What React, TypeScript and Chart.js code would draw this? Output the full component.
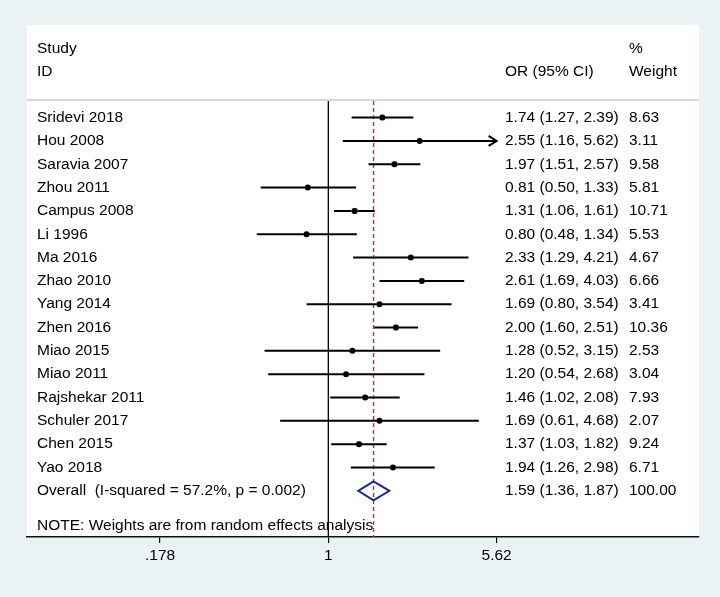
import React, { useEffect, useRef } from "react";
import { Chart, registerables } from "chart.js";

Chart.register(...registerables);

const studies = [
  "Sridevi 2018", "Hou 2008", "Saravia 2007", "Zhou 2011", "Campus 2008", "Li 1996",
  "Ma 2016", "Zhao 2010", "Yang 2014", "Zhen 2016", "Miao 2015", "Miao 2011",
  "Rajshekar 2011", "Schuler 2017", "Chen 2015", "Yao 2018",
];
const oddsRatios = [1.74, 2.55, 1.97, 0.81, 1.31, 0.80, 2.33, 2.61, 1.69, 2.00, 1.28, 1.20, 1.46, 1.69, 1.37, 1.94];
const ciLower = [1.27, 1.16, 1.51, 0.50, 1.06, 0.48, 1.29, 1.69, 0.80, 1.60, 0.52, 0.54, 1.02, 0.61, 1.03, 1.26];
const ciUpper = [2.39, 5.62, 2.57, 1.33, 1.61, 1.34, 4.21, 4.03, 3.54, 2.51, 3.15, 2.68, 2.08, 4.68, 1.82, 2.98];
const weights = [8.63, 3.11, 9.58, 5.81, 10.71, 5.53, 4.67, 6.66, 3.41, 10.36, 2.53, 3.04, 7.93, 2.07, 9.24, 6.71];

const overallLabel = "Overall  (I-squared = 57.2%, p = 0.002)";
const overallOR = 1.59;
const overallLower = 1.36;
const overallUpper = 1.87;
const overallWeight = 100.0;

const noteText = "NOTE: Weights are from random effects analysis";
const headerStudy = ["Study", "ID"];
const headerOR = "OR (95% CI)";
const headerWeight = ["%", "Weight"];

const tickValues = [0.178, 1, 5.62];
const tickLabels = [".178", "1", "5.62"];

const FONT = '15.5px "Liberation Sans", Arial, Helvetica, sans-serif';
const BG = "#eaf2f3";

const fmt = (v: number) => v.toFixed(2);

const forestPlugin = {
  id: "forest",
  beforeDraw(chart: any) {
    const { ctx, chartArea, width, height } = chart;
    ctx.save();
    ctx.fillStyle = BG;
    ctx.fillRect(0, 0, width, height);
    ctx.fillStyle = "#ffffff";
    ctx.fillRect(chartArea.left, chartArea.top, chartArea.right - chartArea.left, chartArea.bottom - chartArea.top);
    ctx.restore();
  },
  beforeDatasetsDraw(chart: any) {
    const { ctx, chartArea } = chart;
    const xs = chart.scales.x;
    const ys = chart.scales.y;
    ctx.save();
    const dy = ys.getPixelForValue(-0.755);
    ctx.strokeStyle = "#d8d8d8";
    ctx.lineWidth = 2;
    ctx.beginPath();
    ctx.moveTo(chartArea.left, dy);
    ctx.lineTo(chartArea.right, dy);
    ctx.stroke();

    const x1 = xs.getPixelForValue(1);
    ctx.strokeStyle = "#000";
    ctx.lineWidth = 1.3;
    ctx.beginPath();
    ctx.moveTo(x1, dy + 1);
    ctx.lineTo(x1, chartArea.bottom);
    ctx.stroke();

    const xo = xs.getPixelForValue(overallOR);
    ctx.strokeStyle = "#a63a4c";
    ctx.lineWidth = 1.4;
    ctx.setLineDash([4, 3]);
    ctx.beginPath();
    ctx.moveTo(xo, dy + 1);
    ctx.lineTo(xo, chartArea.bottom);
    ctx.stroke();
    ctx.setLineDash([]);

    const clipMax = tickValues[tickValues.length - 1];
    ctx.strokeStyle = "#000";
    ctx.lineWidth = 2;
    for (let i = 0; i < studies.length; i++) {
      const y = ys.getPixelForValue(i);
      const xl = xs.getPixelForValue(ciLower[i]);
      const arrow = ciUpper[i] >= clipMax;
      const xu = xs.getPixelForValue(arrow ? clipMax : ciUpper[i]);
      ctx.beginPath();
      ctx.moveTo(xl, y);
      ctx.lineTo(xu, y);
      ctx.stroke();
      if (arrow) {
        ctx.beginPath();
        ctx.moveTo(xu - 8, y - 5);
        ctx.lineTo(xu, y);
        ctx.lineTo(xu - 8, y + 5);
        ctx.stroke();
      }
    }

    const row = studies.length;
    const yc = ys.getPixelForValue(row);
    const h = 9.5;
    ctx.strokeStyle = "#1b2a8a";
    ctx.lineWidth = 2;
    ctx.beginPath();
    ctx.moveTo(xs.getPixelForValue(overallLower), yc);
    ctx.lineTo(xo, yc - h);
    ctx.lineTo(xs.getPixelForValue(overallUpper), yc);
    ctx.lineTo(xo, yc + h);
    ctx.closePath();
    ctx.stroke();
    ctx.restore();
  },
  afterDatasetsDraw(chart: any) {
    const { ctx } = chart;
    const ys = chart.scales.y;
    ctx.save();
    ctx.font = FONT;
    ctx.fillStyle = "#000";
    ctx.textBaseline = "middle";
    ctx.textAlign = "left";
    const xName = 37;
    const xOR = 505;
    const xW = 629;
    ctx.fillText(headerStudy[0], xName, ys.getPixelForValue(-2.94));
    ctx.fillText(headerStudy[1], xName, ys.getPixelForValue(-1.955));
    ctx.fillText(headerOR, xOR, ys.getPixelForValue(-1.955));
    ctx.fillText(headerWeight[0], xW, ys.getPixelForValue(-2.94));
    ctx.fillText(headerWeight[1], xW, ys.getPixelForValue(-1.955));
    for (let i = 0; i < studies.length; i++) {
      const y = ys.getPixelForValue(i);
      ctx.fillText(studies[i], xName, y);
      ctx.fillText(`${fmt(oddsRatios[i])} (${fmt(ciLower[i])}, ${fmt(ciUpper[i])})`, xOR, y);
      ctx.fillText(fmt(weights[i]), xW, y);
    }
    const yo = ys.getPixelForValue(studies.length);
    ctx.fillText(overallLabel, xName, yo);
    ctx.fillText(`${fmt(overallOR)} (${fmt(overallLower)}, ${fmt(overallUpper)})`, xOR, yo);
    ctx.fillText(fmt(overallWeight), xW, yo);
    ctx.fillText(noteText, xName, ys.getPixelForValue(17.5));
    ctx.restore();
  },
};

export default function App() {
  const canvasRef = useRef<HTMLCanvasElement | null>(null);

  useEffect(() => {
    if (!canvasRef.current) return;
    const pointData = studies.map((_, i) => ({ x: oddsRatios[i], y: i }));
    const chart = new Chart(canvasRef.current, {
      type: "scatter",
      data: {
        datasets: [
          {
            data: pointData,
            order: 2,
            pointStyle: "rect",
            pointRadius: weights.map((w) => 1.3 * Math.sqrt(w)),
            backgroundColor: "#c4c4c4",
            borderWidth: 0,
          },
          {
            data: pointData,
            order: 1,
            pointStyle: "circle",
            pointRadius: 3,
            backgroundColor: "#000",
            borderColor: "#000",
            borderWidth: 0,
          },
        ],
      },
      options: {
        responsive: false,
        animation: false,
        events: [],
        devicePixelRatio: 1,
        layout: { padding: { left: 27, right: 21, top: 25, bottom: 0 } },
        plugins: { legend: { display: false }, tooltip: { enabled: false } },
        scales: {
          x: {
            type: "logarithmic",
            min: 0.04548,
            max: 44.79,
            afterBuildTicks: (scale: any) => {
              scale.ticks = tickValues.map((v) => ({ value: v }));
            },
            afterFit: (scale: any) => {
              scale.height = 60;
            },
            ticks: {
              autoSkip: false,
              maxRotation: 0,
              padding: 3,
              color: "#000",
              font: { family: '"Liberation Sans", Arial, sans-serif', size: 15.5 },
              callback: (_v: any, i: number) => tickLabels[i],
            },
            grid: {
              display: true,
              drawOnChartArea: false,
              drawTicks: true,
              tickLength: 6,
              color: "#000",
              lineWidth: 1.2,
            },
            border: { display: true, color: "#111", width: 1.6 },
          },
          y: {
            type: "linear",
            display: false,
            reverse: true,
            min: -3.97,
            max: 17.98,
          },
        },
      },
      plugins: [forestPlugin],
    } as any);
    return () => chart.destroy();
  }, []);

  return (
    <div style={{ position: "fixed", left: 0, top: 0, width: 720, height: 597, background: BG }}>
      <canvas ref={canvasRef} width={720} height={597} style={{ display: "block" }} />
    </div>
  );
}
